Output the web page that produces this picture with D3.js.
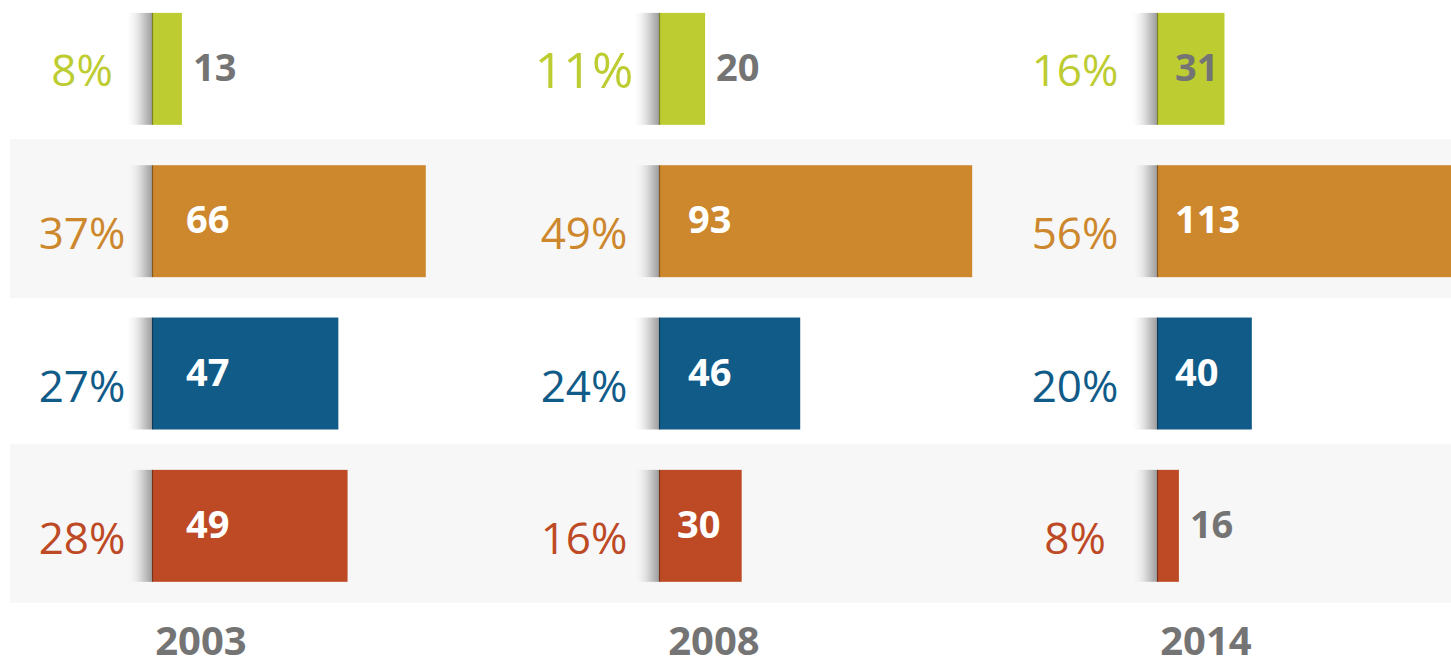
<!DOCTYPE html>
<html>
<head>
<meta charset="utf-8">
<script src="https://cdn.jsdelivr.net/npm/d3@7"></script>
<style>
  html, body { margin: 0; padding: 0; background: #fff; overflow: hidden; }
  svg { display: block; }
</style>
</head>
<body>
<div id="chart"></div>
<script>
// rows, top to bottom (unlabelled in the original, keyed by colour)
const categories = ['green', 'orange', 'blue', 'red'];
const colors = ['#bccc31', '#cd872d', '#115b89', '#bd4a25'];

const years = ['2003', '2008', '2014'];
const counts2003 = [13, 66, 47, 49];
const counts2008 = [20, 93, 46, 30];
const counts2014 = [31, 113, 40, 16];
const shares2003 = [8, 37, 27, 28];
const shares2008 = [11, 49, 24, 16];
const shares2014 = [16, 56, 20, 8];

// value-axis limits of each small chart (they do not start at zero)
const axisMin = [6.5, 7.4, 8.8];
const axisMax = [71.7, 89.4, 107.5];

const panels = years.map((year, i) => ({
  year,
  counts: [counts2003, counts2008, counts2014][i],
  shares: [shares2003, shares2008, shares2014][i],
  domain: [axisMin[i], axisMax[i]]
}));

const width = 1451;
const height = 660;
const panelX = [152, 659, 1157];
const pctX = [-70, -75, -82];
const barW = 300;
const grayText = '#747474';
const font = '"Open Sans", "Noto Sans", sans-serif';

const svg = d3.select('#chart').append('svg')
  .attr('width', width)
  .attr('height', height);

const defs = svg.append('defs');
const grad = defs.append('linearGradient').attr('id', 'shade')
  .attr('x1', '0%').attr('x2', '100%').attr('y1', '0%').attr('y2', '0%');
grad.append('stop').attr('offset', '0%').attr('stop-color', '#ffffff').attr('stop-opacity', 0);
grad.append('stop').attr('offset', '55%').attr('stop-color', '#dcdcdc');
grad.append('stop').attr('offset', '100%').attr('stop-color', '#9e9e9e');

const y = d3.scaleBand()
  .domain(categories)
  .range([-7.3, 602])
  .paddingInner(0.265)
  .paddingOuter(0.1325);

// alternating light bands behind rows 2 and 4
svg.append('g').selectAll('rect')
  .data(categories.filter((c, i) => i % 2 === 1))
  .join('rect')
  .attr('x', 10)
  .attr('y', d => y(d) - 26)
  .attr('width', width - 10)
  .attr('height', y.bandwidth() + 47)
  .attr('fill', '#f7f7f7');

const pctDy = [0, 11, 11, 11];

panels.forEach((p, pi) => {
  const x0 = panelX[pi];
  const x = d3.scaleLinear().domain(p.domain).range([0, barW]);
  const g = svg.append('g').attr('transform', `translate(${x0},0)`);

  // soft shadow left of the baseline
  g.selectAll('rect.shade')
    .data(categories)
    .join('rect')
    .attr('class', 'shade')
    .attr('x', -27)
    .attr('y', d => y(d))
    .attr('width', 27)
    .attr('height', y.bandwidth())
    .attr('fill', 'url(#shade)');

  g.selectAll('rect.bar')
    .data(categories)
    .join('rect')
    .attr('class', 'bar')
    .attr('x', 0)
    .attr('y', d => y(d))
    .attr('width', (d, i) => x(p.counts[i]))
    .attr('height', y.bandwidth())
    .attr('fill', (d, i) => colors[i]);

  g.selectAll('line.base')
    .data(categories)
    .join('line')
    .attr('class', 'base')
    .attr('x1', 0.5).attr('x2', 0.5)
    .attr('y1', d => y(d))
    .attr('y2', d => y(d) + y.bandwidth())
    .attr('stroke', '#000')
    .attr('stroke-opacity', 0.35)
    .attr('stroke-width', 1.2);

  // value labels
  g.selectAll('text.val')
    .data(categories)
    .join('text')
    .attr('class', 'val')
    .each(function (d, i) {
      const w = x(p.counts[i]);
      const inside = w > 60;
      const tx = inside ? (w >= 120 && p.counts[i] < 100 ? (pi === 0 ? 34 : 29) : 18) : w + 11;
      d3.select(this)
        .attr('x', tx)
        .attr('y', y(d) + y.bandwidth() / 2 - 3)
        .attr('fill', (!inside || i === 0) ? grayText : '#ffffff');
    })
    .attr('dominant-baseline', 'central')
    .attr('font-family', font)
    .attr('font-weight', 700)
    .attr('font-size', 38)
    .text((d, i) => p.counts[i]);

  // share labels
  g.selectAll('text.pct')
    .data(categories)
    .join('text')
    .attr('class', 'pct')
    .attr('x', pctX[pi])
    .attr('y', (d, i) => y(d) + y.bandwidth() / 2 + pctDy[i])
    .attr('text-anchor', 'middle')
    .attr('dominant-baseline', 'central')
    .attr('font-family', font)
    .attr('font-size', (d, i) => (pi === 1 && i === 0) ? 50 : 44)
    .attr('fill', (d, i) => colors[i])
    .text((d, i) => p.shares[i] + '%');

  g.append('text')
    .attr('x', pi === 1 ? 55 : 49)
    .attr('y', 655)
    .attr('text-anchor', 'middle')
    .attr('font-family', font)
    .attr('font-weight', 700)
    .attr('font-size', 40)
    .attr('fill', grayText)
    .text(p.year);
});
</script>
</body>
</html>
